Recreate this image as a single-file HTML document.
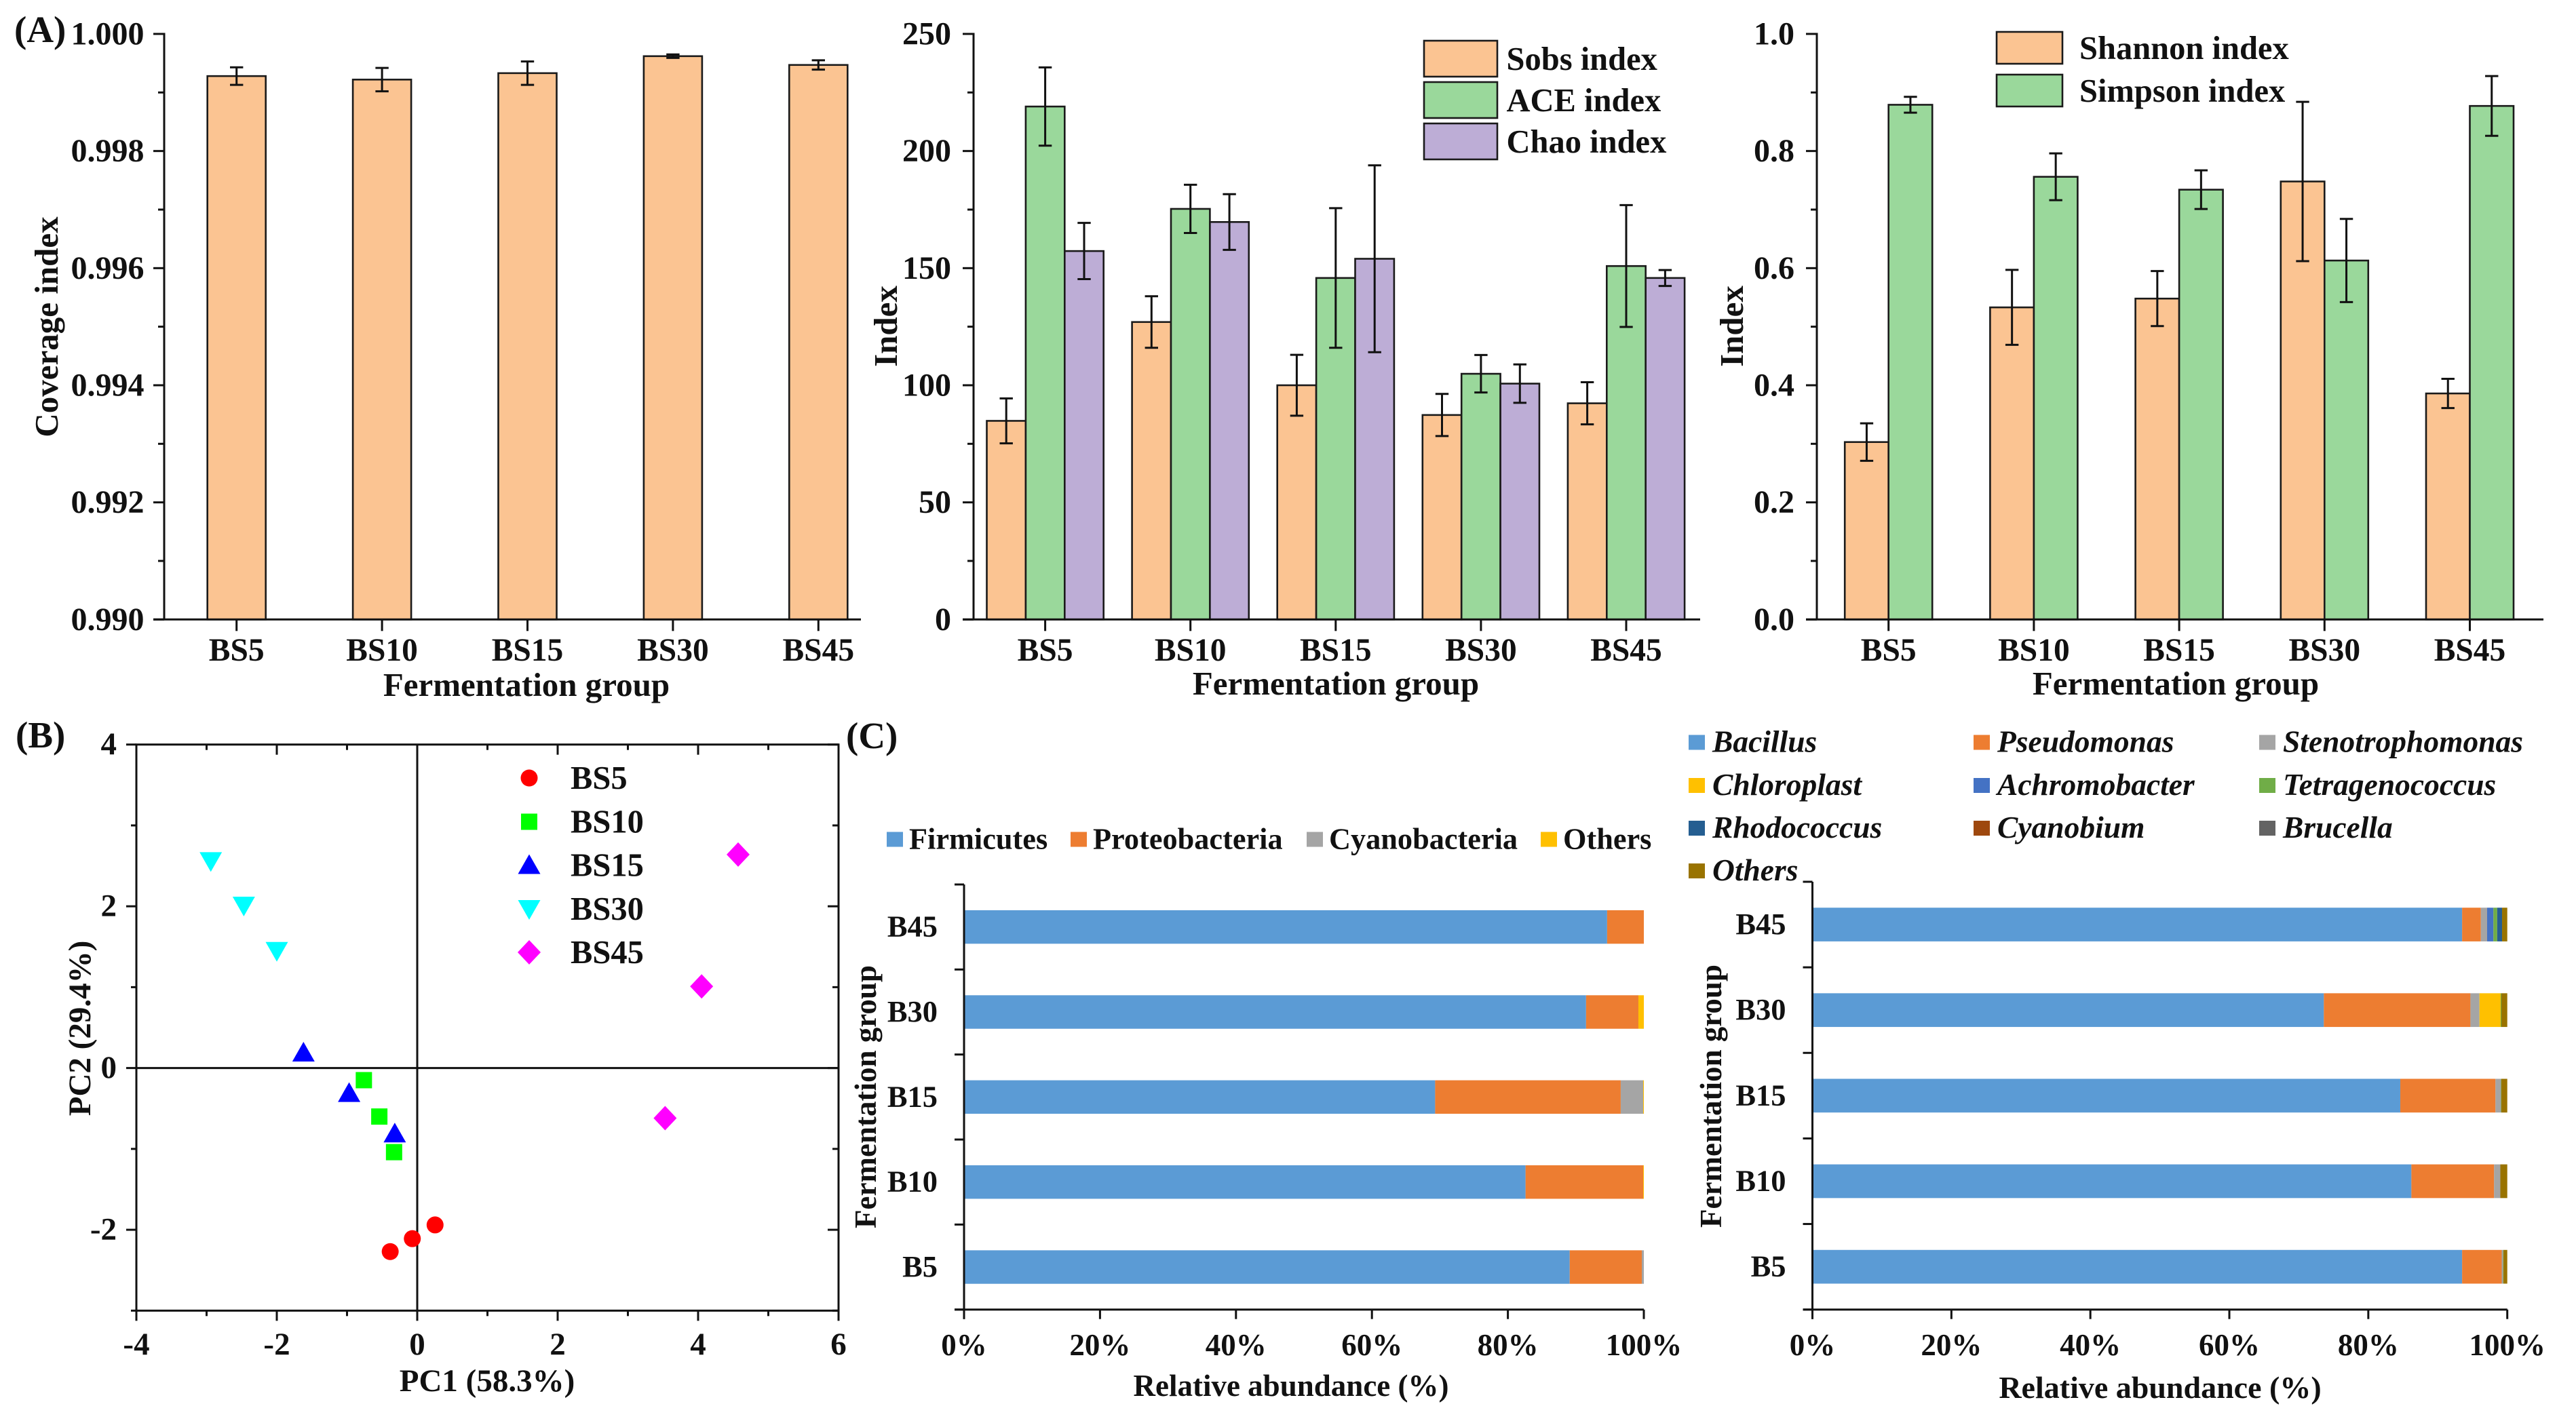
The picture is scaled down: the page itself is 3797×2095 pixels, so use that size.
<!DOCTYPE html>
<html lang="en">
<head>
<meta charset="utf-8">
<title>Fermentation group microbial diversity figure</title>
<style>
html,body{margin:0;padding:0;background:#fff;}
svg{display:block;font-family:"Liberation Serif",serif;font-weight:bold;fill:#111;}
.it{font-style:italic;}
</style>
</head>
<body>
<svg id="fig" xmlns="http://www.w3.org/2000/svg" width="3797" height="2095" viewBox="0 0 3797 2095">
<rect x="0" y="0" width="3797" height="2095" fill="#fff"/>
<text x="21" y="62" font-size="55">(A)</text>
<text x="23" y="1102" font-size="55">(B)</text>
<text x="1247" y="1103" font-size="55">(C)</text>
<text x="776" y="1026" font-size="49" text-anchor="middle">Fermentation group</text>
<text transform="translate(85,482) rotate(-90)" font-size="49" text-anchor="middle">Coverage index</text>
<text x="1969" y="1024" font-size="49" text-anchor="middle">Fermentation group</text>
<text transform="translate(1322,481) rotate(-90)" font-size="49" text-anchor="middle">Index</text>
<text x="3207" y="1024" font-size="49" text-anchor="middle">Fermentation group</text>
<text transform="translate(2569,481) rotate(-90)" font-size="49" text-anchor="middle">Index</text>
<text x="718" y="2051" font-size="47" text-anchor="middle">PC1 (58.3%)</text>
<text transform="translate(133,1516) rotate(-90)" font-size="47" text-anchor="middle">PC2 (29.4%)</text>
<text x="1903" y="2058" font-size="45" text-anchor="middle">Relative abundance (%)</text>
<text transform="translate(1291,1617) rotate(-90)" font-size="45" text-anchor="middle">Fermentation group</text>
<text x="3184" y="2061" font-size="46" text-anchor="middle">Relative abundance (%)</text>
<text transform="translate(2537,1616) rotate(-90)" font-size="45" text-anchor="middle">Fermentation group</text>
</svg>
<script>
// ---------- Data ----------
const groups = ['BS5', 'BS10', 'BS15', 'BS30', 'BS45'];

const coverageTicks = [0.990, 0.992, 0.994, 0.996, 0.998, 1.000];
const coverageTickLabels = ['0.990', '0.992', '0.994', '0.996', '0.998', '1.000'];
const coverageValues = [0.99928, 0.99922, 0.99933, 0.99962, 0.99947];
const coverageErrors = [0.00015, 0.00020, 0.00020, 0.00003, 0.00008];

const richnessTicks = [0, 50, 100, 150, 200, 250];
const richnessTickLabels = ['0', '50', '100', '150', '200', '250'];
const sobsValues = [84.8, 127, 100, 87.3, 92.3];
const sobsErrors = [9.6, 11, 13, 9, 9];
const aceValues = [219, 175.3, 145.8, 104.9, 150.9];
const aceErrors = [16.7, 10.3, 29.8, 8, 26];
const chaoValues = [157.3, 169.7, 154, 100.7, 145.8];
const chaoErrors = [12, 11.9, 39.9, 8.2, 3.4];

const diversityTicks = [0, 0.2, 0.4, 0.6, 0.8, 1.0];
const diversityTickLabels = ['0.0', '0.2', '0.4', '0.6', '0.8', '1.0'];
const shannonValues = [0.303, 0.533, 0.548, 0.748, 0.386];
const shannonErrors = [0.032, 0.064, 0.047, 0.136, 0.025];
const simpsonValues = [0.879, 0.756, 0.734, 0.613, 0.877];
const simpsonErrors = [0.0135, 0.040, 0.033, 0.071, 0.051];

const pcaXTicks = [-4, -2, 0, 2, 4, 6];
const pcaXTickLabels = ['-4', '-2', '0', '2', '4', '6'];
const pcaYTicks = [-2, 0, 2, 4];
const pcaYTickLabels = ['-2', '0', '2', '4'];
const pcaBS5X = [0.254, -0.07, -0.385];
const pcaBS5Y = [-1.94, -2.11, -2.27];
const pcaBS10X = [-0.76, -0.54, -0.33];
const pcaBS10Y = [-0.15, -0.60, -1.04];
const pcaBS15X = [-1.62, -0.97, -0.32];
const pcaBS15Y = [0.19, -0.31, -0.81];
const pcaBS30X = [-2.94, -2.47, -2.0];
const pcaBS30Y = [2.56, 2.01, 1.45];
const pcaBS45X = [4.57, 4.05, 3.53];
const pcaBS45Y = [2.64, 1.01, -0.62];

const stackCategories = ['B45', 'B30', 'B15', 'B10', 'B5'];
const percentTicks = [0, 20, 40, 60, 80, 100];
const percentTickLabels = ['0%', '20%', '40%', '60%', '80%', '100%'];

const phylumNames = ['Firmicutes', 'Proteobacteria', 'Cyanobacteria', 'Others'];
const phylumFirmicutes = [94.6, 91.5, 69.3, 82.6, 89.1];
const phylumProteobacteria = [5.4, 7.7, 27.3, 17.3, 10.6];
const phylumCyanobacteria = [0, 0, 3.3, 0, 0.3];
const phylumOthers = [0, 0.8, 0.1, 0.1, 0];

const genusNames = ['Bacillus', 'Pseudomonas', 'Stenotrophomonas', 'Chloroplast', 'Achromobacter', 'Tetragenococcus', 'Rhodococcus', 'Cyanobium', 'Brucella', 'Others'];
const genusBacillus = [93.5, 73.6, 84.6, 86.2, 93.5];
const genusPseudomonas = [2.7, 21.1, 13.7, 11.9, 5.7];
const genusStenotrophomonas = [0.9, 1.3, 0.8, 0.9, 0.2];
const genusChloroplast = [0, 3.05, 0, 0, 0];
const genusAchromobacter = [0.9, 0, 0, 0, 0];
const genusTetragenococcus = [0.55, 0.1, 0.05, 0, 0.05];
const genusRhodococcus = [0.7, 0, 0, 0, 0];
const genusCyanobium = [0, 0, 0, 0, 0];
const genusBrucella = [0, 0, 0, 0, 0];
const genusOthers = [0.75, 0.85, 0.85, 1.0, 0.55];

// ---------- Helpers ----------
const NS = 'http://www.w3.org/2000/svg';
const fig = document.getElementById('fig');
const INK = '#111';
function mk(tag, attrs, text) {
  const n = document.createElementNS(NS, tag);
  for (const k in attrs) n.setAttribute(k, attrs[k]);
  if (text !== undefined) n.textContent = text;
  fig.appendChild(n);
  return n;
}
function line(x1, y1, x2, y2) {
  const l = mk('line', {x1: x1, y1: y1, x2: x2, y2: y2, stroke: INK, 'stroke-width': 3});
  
  
  return l;
}
function tick(x1, y1, x2, y2) {
  const l = mk('line', {x1: x1, y1: y1, x2: x2, y2: y2, stroke: INK, 'stroke-width': 3});
  
  
  return l;
}
function label(x, y, str, size, anchor, cls) {
  const t = mk('text', {x: x, y: y, 'font-size': size, 'text-anchor': anchor || 'start'}, str);
  if (cls) t.setAttribute('class', cls);
  
  
  return t;
}

// ---------- Grouped bar panels ----------
function barPanel(p) {
  const yOf = v => p.bottom - (v - p.yMin) / (p.yMax - p.yMin) * (p.bottom - p.top);
  const xOf = i => p.firstCenter + i * p.step;
  const n = p.series.length;
  p.series.forEach((s, si) => {
    s.values.forEach((v, i) => {
      const x = xOf(i) - n * p.barW / 2 + si * p.barW;
      const b = mk('rect', {x: x, y: yOf(v), width: p.barW, height: p.bottom - yOf(v), fill: s.color, stroke: '#1a1a1a', 'stroke-width': 2.6});
      
      
    });
  });
  p.series.forEach((s, si) => {
    s.values.forEach((v, i) => {
      const cx = xOf(i) - n * p.barW / 2 + (si + 0.5) * p.barW;
      const hi = yOf(v + s.errors[i]), lo = yOf(v - s.errors[i]);
      const e = mk('path', {d: 'M' + (cx - 9.7) + ' ' + hi + 'H' + (cx + 9.7) + 'M' + cx + ' ' + hi + 'V' + lo + 'M' + (cx - 9.7) + ' ' + lo + 'H' + (cx + 9.7), fill: 'none', stroke: INK, 'stroke-width': 3});
      
      
    });
  });
  line(p.axisX, p.top - 1.5, p.axisX, p.bottom + 1);
  line(p.axisX - 16, p.bottom, p.right, p.bottom);
  p.ticks.forEach((v, i) => {
    tick(p.axisX - 16, yOf(v), p.axisX, yOf(v));
    label(p.labelRight, yOf(v) + 15.5, p.tickLabels[i], 48, 'end');
    if (i < p.ticks.length - 1) {
      const m = (v + p.ticks[i + 1]) / 2;
      tick(p.axisX - 9, yOf(m), p.axisX, yOf(m));
    }
  });
  groups.forEach((g, i) => {
    tick(xOf(i), p.bottom, xOf(i), p.bottom + 17);
    label(xOf(i), 974, g, 47.5, 'middle');
  });
  p.legend.forEach((lg, si) => {
    const s = p.series[si];
    const r = mk('rect', {x: lg[0], y: lg[1], width: lg[2], height: lg[3], fill: s.color, stroke: '#1a1a1a', 'stroke-width': 2.6});
    
    
    label(lg[4], lg[1] + lg[3] / 2 + 16.5, s.name, 48.5);
  });
}
const PEACH = '#FBC492', GREEN = '#9AD89B', PURPLE = '#BDADD6';
barPanel({
  axisX: 242, right: 1269, top: 50, bottom: 913.3, yMin: 0.990, yMax: 1.000,
  firstCenter: 348.7, step: 214.4, barW: 86, labelRight: 212.5,
  ticks: coverageTicks, tickLabels: coverageTickLabels, legend: [],
  series: [{name: 'Coverage index', values: coverageValues, errors: coverageErrors, color: PEACH}]
});
barPanel({
  axisX: 1435, right: 2506, top: 50, bottom: 913.3, yMin: 0, yMax: 250,
  firstCenter: 1540.6, step: 214.1, barW: 57.4, labelRight: 1402,
  ticks: richnessTicks, tickLabels: richnessTickLabels,
  legend: [[2099, 60, 108, 53, 2220.5], [2099, 121, 108, 53, 2220.5], [2099, 182, 108, 53, 2220.5]],
  series: [
    {name: 'Sobs index', values: sobsValues, errors: sobsErrors, color: PEACH},
    {name: 'ACE index', values: aceValues, errors: aceErrors, color: GREEN},
    {name: 'Chao index', values: chaoValues, errors: chaoErrors, color: PURPLE}
  ]
});
barPanel({
  axisX: 2678, right: 3749, top: 50, bottom: 913.3, yMin: 0, yMax: 1,
  firstCenter: 2783.7, step: 214.2, barW: 64.5, labelRight: 2645,
  ticks: diversityTicks, tickLabels: diversityTickLabels,
  legend: [[2943, 47, 97, 47, 3065], [2943, 110, 97, 47, 3065]],
  series: [
    {name: 'Shannon index', values: shannonValues, errors: shannonErrors, color: PEACH},
    {name: 'Simpson index', values: simpsonValues, errors: simpsonErrors, color: GREEN}
  ]
});

// ---------- PCA scatter ----------
(function () {
  const L = 201, R = 1236, T = 1097.7, B = 1932.3;
  const xOf = v => L + (v + 4) / 10 * (R - L);
  const yOf = v => B - (v + 3) / 7 * (B - T);
  const frame = mk('rect', {x: L, y: T, width: R - L, height: B - T, fill: 'none', stroke: INK, 'stroke-width': 3});
  
  
  line(xOf(0), T, xOf(0), B);
  line(L, yOf(0), R, yOf(0));
  pcaXTicks.forEach((v, i) => {
    tick(xOf(v), B, xOf(v), B + 15);
    tick(xOf(v), T, xOf(v), T + 15);
    label(xOf(v), 1997, pcaXTickLabels[i], 47, 'middle');
    if (v < 6) {
      tick(xOf(v + 1), B, xOf(v + 1), B + 8);
      tick(xOf(v + 1), T, xOf(v + 1), T + 8);
    }
  });
  pcaYTicks.forEach((v, i) => {
    tick(L - 15, yOf(v), L, yOf(v));
    tick(R, yOf(v), R - 16, yOf(v));
    label(172, yOf(v) + 14.5, pcaYTickLabels[i], 47, 'end');
    tick(L - 8, yOf(v - 1), L, yOf(v - 1));
    tick(R, yOf(v - 1), R - 9, yOf(v - 1));
  });
  function marker(kind, cx, cy) {
    let m;
    if (kind === 'circle') m = mk('circle', {cx: cx, cy: cy, r: 12.5, fill: '#FF0000'});
    if (kind === 'square') m = mk('rect', {x: cx - 12, y: cy - 12, width: 24, height: 24, fill: '#00FF00'});
    if (kind === 'up') m = mk('path', {d: 'M' + cx + ' ' + (cy - 16) + 'L' + (cx + 16.5) + ' ' + (cy + 13) + 'H' + (cx - 16.5) + 'Z', fill: '#0000FF'});
    if (kind === 'down') m = mk('path', {d: 'M' + cx + ' ' + (cy + 16) + 'L' + (cx + 16.5) + ' ' + (cy - 13) + 'H' + (cx - 16.5) + 'Z', fill: '#00FFFF'});
    if (kind === 'diamond') m = mk('path', {d: 'M' + cx + ' ' + (cy - 18) + 'L' + (cx + 17) + ' ' + cy + 'L' + cx + ' ' + (cy + 18) + 'L' + (cx - 17) + ' ' + cy + 'Z', fill: '#FF00FF'});
    return m;
  }
  const sets = [
    {name: 'BS5', kind: 'circle', xs: pcaBS5X, ys: pcaBS5Y, ly: 1147},
    {name: 'BS10', kind: 'square', xs: pcaBS10X, ys: pcaBS10Y, ly: 1211.5},
    {name: 'BS15', kind: 'up', xs: pcaBS15X, ys: pcaBS15Y, ly: 1275.5},
    {name: 'BS30', kind: 'down', xs: pcaBS30X, ys: pcaBS30Y, ly: 1340},
    {name: 'BS45', kind: 'diamond', xs: pcaBS45X, ys: pcaBS45Y, ly: 1404}
  ];
  sets.forEach(s => {
    s.xs.forEach((x, i) => {
      const m = marker(s.kind, xOf(x), yOf(s.ys[i]));
      
      
    });
    const lm = marker(s.kind, 780, s.ly);
    
    
    label(841, s.ly + 16, s.name, 48.5);
  });
})();

// ---------- Stacked bars ----------
function stackPanel(p) {
  const xOf = v => p.L + v / 100 * (p.R - p.L);
  const band = (p.B - p.T) / stackCategories.length;
  stackCategories.forEach((c, i) => {
    const cy = p.T + (i + 0.5) * band;
    let acc = 0;
    p.series.forEach((vals, si) => {
      const v = vals[i];
      if (v > 0) {
        const seg = mk('rect', {x: xOf(acc), y: cy - band * 0.197, width: xOf(acc + v) - xOf(acc), height: band * 0.394, fill: p.colors[si]});
        
        
      }
      acc += v;
    });
    label(p.L - 39, cy + 14, c, 44.5, 'end');
  });
  line(p.L, p.T, p.L, p.B + 14);
  line(p.L - 14, p.B, p.R, p.B);
  for (let i = 0; i <= stackCategories.length; i++) {
    tick(p.L - 14, p.T + i * band, p.L, p.T + i * band);
  }
  percentTicks.forEach((v, i) => {
    tick(xOf(v), p.B, xOf(v), p.B + 14);
    label(xOf(v), p.tickY, percentTickLabels[i], 45, 'middle');
  });
  p.names.forEach((n, i) => {
    const lg = p.legend[i];
    const sw = mk('rect', {x: lg[0], y: lg[1] - 11, width: 24, height: 22, fill: p.colors[i]});
    
    
    label(lg[0] + p.textGap, lg[1] + 14, n, p.legendSize, 'start', p.italic ? 'it' : '');
  });
}
stackPanel({
  L: 1421, R: 2423, T: 1304, B: 1930.7, tickY: 1998,
  names: phylumNames,
  series: [phylumFirmicutes, phylumProteobacteria, phylumCyanobacteria, phylumOthers],
  colors: ['#5B9BD5', '#ED7D31', '#A5A5A5', '#FFC000'],
  legend: [[1307, 1237.5], [1578, 1237.5], [1926, 1237.5], [2271, 1237.5]],
  textGap: 33, legendSize: 44.3, italic: false
});
stackPanel({
  L: 2671.5, R: 3695.7, T: 1300, B: 1930.7, tickY: 1998,
  names: genusNames,
  series: [genusBacillus, genusPseudomonas, genusStenotrophomonas, genusChloroplast, genusAchromobacter, genusTetragenococcus, genusRhodococcus, genusCyanobium, genusBrucella, genusOthers],
  colors: ['#5B9BD5', '#ED7D31', '#A5A5A5', '#FFC000', '#4472C4', '#70AD47', '#255E91', '#9E480E', '#636363', '#997300'],
  legend: [[2489, 1094.5], [2909, 1094.5], [3330, 1094.5], [2489, 1158], [2909, 1158], [3330, 1158], [2489, 1221], [2909, 1221], [3330, 1221], [2489, 1284]],
  textGap: 35, legendSize: 45.5, italic: true
});
</script>
</body>
</html>
